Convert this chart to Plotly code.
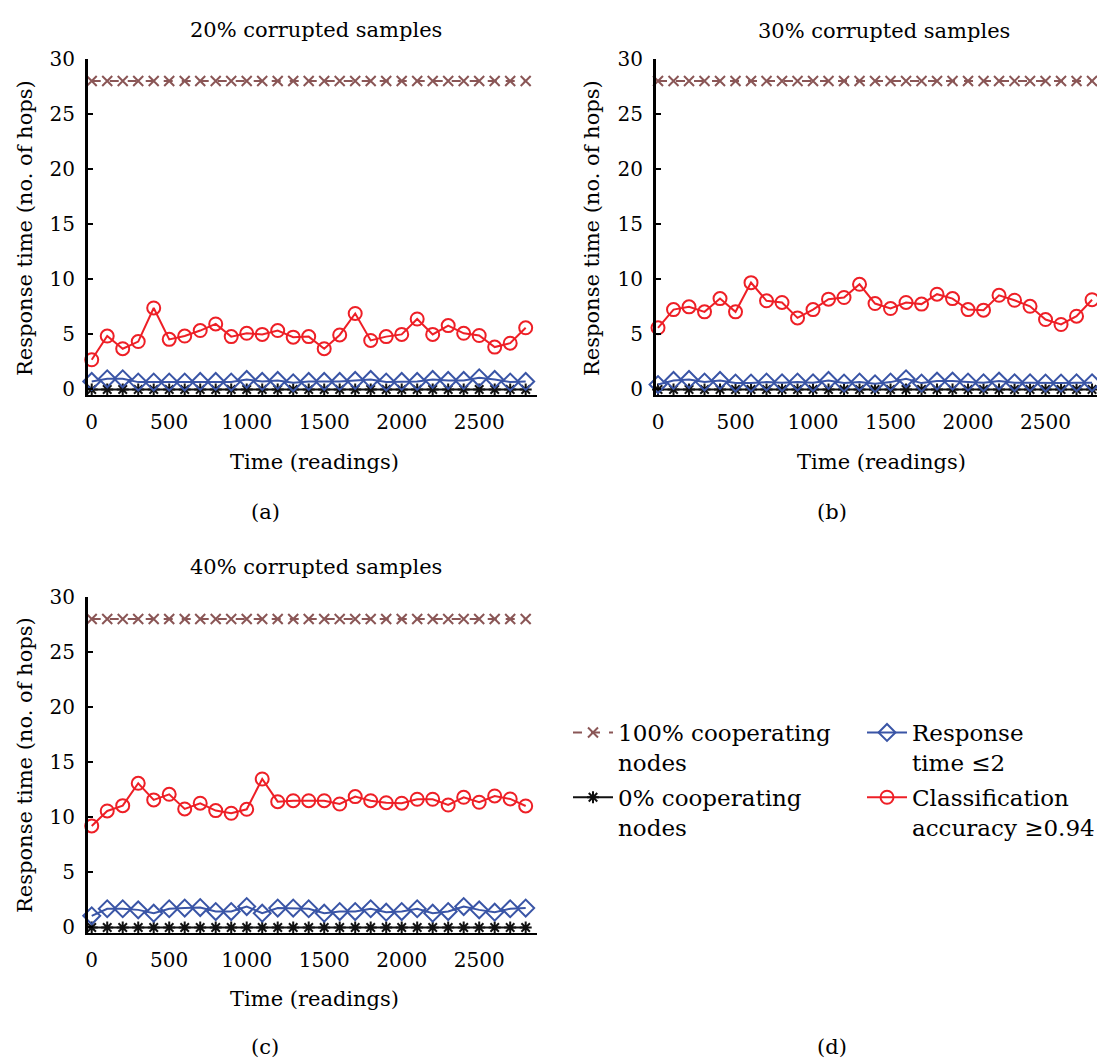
import plotly.graph_objects as go

# ---------------- data ----------------
time_readings = [0, 100, 200, 300, 400, 500, 600, 700, 800, 900, 1000, 1100, 1200, 1300,
                 1400, 1500, 1600, 1700, 1800, 1900, 2000, 2100, 2200, 2300, 2400, 2500,
                 2600, 2700, 2800]

coop100 = [28, 28, 28, 28, 28, 28, 28, 28, 28, 28, 28, 28, 28, 28, 28, 28, 28, 28, 28, 28,
           28, 28, 28, 28, 28, 28, 28, 28, 28]
coop0 = [0, 0, 0, 0, 0, 0, 0, 0, 0, 0, 0, 0, 0, 0, 0, 0, 0, 0, 0, 0,
         0, 0, 0, 0, 0, 0, 0, 0, 0]

# (a) 20% corrupted samples
resp_a = [0.73, 0.97, 0.97, 0.67, 0.67, 0.67, 0.67, 0.73, 0.73, 0.67, 0.91, 0.73, 0.82, 0.61,
          0.73, 0.73, 0.73, 0.82, 0.91, 0.67, 0.73, 0.73, 0.91, 0.82, 0.82, 1.06, 0.91, 0.67, 0.73]
class_a = [2.7, 4.85, 3.7, 4.35, 7.4, 4.55, 4.85, 5.35, 5.95, 4.8, 5.1, 5.0, 5.35, 4.75,
           4.8, 3.7, 4.95, 6.9, 4.45, 4.8, 5.0, 6.4, 5.0, 5.8, 5.1, 4.9, 3.85, 4.2, 5.6]

# (b) 30% corrupted samples
resp_b = [0.45, 0.82, 0.91, 0.67, 0.82, 0.58, 0.58, 0.67, 0.61, 0.67, 0.61, 0.82, 0.58, 0.67,
          0.52, 0.67, 0.97, 0.58, 0.76, 0.76, 0.67, 0.61, 0.76, 0.61, 0.61, 0.58, 0.58, 0.61, 0.61]
class_b = [5.6, 7.25, 7.5, 7.05, 8.25, 7.05, 9.7, 8.05, 7.9, 6.5, 7.25, 8.2, 8.35, 9.55,
           7.8, 7.35, 7.9, 7.75, 8.65, 8.25, 7.25, 7.2, 8.55, 8.1, 7.55, 6.35, 5.9, 6.65, 8.15]

# (c) 40% corrupted samples
resp_c = [1.06, 1.70, 1.70, 1.60, 1.30, 1.70, 1.76, 1.81, 1.45, 1.45, 1.90, 1.30, 1.76, 1.76,
          1.70, 1.30, 1.45, 1.45, 1.70, 1.39, 1.45, 1.70, 1.30, 1.45, 1.90, 1.60, 1.39, 1.70, 1.76]
class_c = [9.22, 10.58, 11.06, 13.09, 11.58, 12.09, 10.76, 11.28, 10.61, 10.37, 10.73, 13.48,
           11.42, 11.51, 11.51, 11.51, 11.21, 11.88, 11.51, 11.33, 11.28, 11.64, 11.64, 11.12,
           11.82, 11.37, 11.94, 11.67, 11.03]

panel_titles = ["20% corrupted samples", "30% corrupted samples", "40% corrupted samples"]
panel_labels = ["(a)", "(b)", "(c)", "(d)"]
x_title = "Time (readings)"
y_title = "Response time (no. of hops)"
x_ticks = [0, 500, 1000, 1500, 2000, 2500]
y_ticks = [0, 5, 10, 15, 20, 25, 30]

series_names = ["100% cooperating<br>nodes", "0% cooperating<br>nodes",
                "Response<br>time \u22642", "Classification<br>accuracy \u22650.94"]

# ---------------- layout helpers ----------------
W, H = 1097, 1062
FONT = "DejaVu Serif"
BROWN = "#8a5656"
BLACK = "#111111"
BLUE = "#3a55a6"
RED = "#ee1f26"


def fx(p):
    return p / W


def fy(p):
    return 1 - p / H


fig = go.Figure()

panels = [
    ("x", "y", resp_a, class_a, False),
    ("x2", "y2", resp_b, class_b, False),
    ("x3", "y3", resp_c, class_c, True),
]

for xa, ya, resp, clas, show in panels:
    fig.add_trace(go.Scatter(
        x=time_readings, y=coop100, xaxis=xa, yaxis=ya, mode="lines+markers",
        name=series_names[0], legendgroup="coop100", showlegend=show, legend="legend",
        line=dict(color=BROWN, width=2, dash="dash"),
        marker=dict(symbol="x-thin-open", size=10, color=BROWN, line=dict(color=BROWN, width=2)),
        cliponaxis=False))
    fig.add_trace(go.Scatter(
        x=time_readings, y=coop0, xaxis=xa, yaxis=ya, mode="lines+markers",
        name=series_names[1], legendgroup="coop0", showlegend=show, legend="legend",
        line=dict(color=BLACK, width=2),
        marker=dict(symbol="asterisk-open", size=10, color=BLACK, line=dict(color=BLACK, width=2)),
        cliponaxis=False))
    fig.add_trace(go.Scatter(
        x=time_readings, y=resp, xaxis=xa, yaxis=ya, mode="lines+markers",
        name=series_names[2], legendgroup="resp", showlegend=show, legend="legend2",
        line=dict(color=BLUE, width=2),
        marker=dict(symbol="diamond-open", size=13, color=BLUE, line=dict(color=BLUE, width=2)),
        cliponaxis=False))
    fig.add_trace(go.Scatter(
        x=time_readings, y=clas, xaxis=xa, yaxis=ya, mode="lines+markers",
        name=series_names[3], legendgroup="class", showlegend=show, legend="legend2",
        line=dict(color=RED, width=2),
        marker=dict(symbol="circle-open", size=13, color=RED, line=dict(color=RED, width=2)),
        cliponaxis=False))


def xaxis_style(domain, rng, anchor):
    return dict(domain=domain, range=rng, anchor=anchor, showline=True, linewidth=2,
                linecolor="black", ticks="", tickvals=x_ticks, showgrid=False,
                zeroline=False, tickfont=dict(family=FONT, size=20, color="black"),
                ticklabelstandoff=8, automargin=False)


def yaxis_style(domain, anchor):
    return dict(domain=domain, range=[-0.5, 30], anchor=anchor, showline=True, linewidth=3,
                linecolor="black", ticks="inside", ticklen=5, tickwidth=2, tickcolor="black",
                tickvals=y_ticks, showgrid=False, zeroline=False,
                tickfont=dict(family=FONT, size=20, color="black"), ticklabelstandoff=6,
                automargin=False)


top_row = [fy(395), fy(59)]
bot_row = [fy(933), fy(597)]
left_col = [fx(88), fx(537)]
right_col = [fx(656), 1.0]

annotations = []


def ann(text, x, y, size=21, angle=0):
    annotations.append(dict(text=text, x=fx(x), y=fy(y), xref="paper", yref="paper",
                            showarrow=False, xanchor="center", yanchor="middle",
                            textangle=angle, font=dict(family=FONT, size=size, color="black")))


ann(panel_titles[0], 316, 30)
ann(panel_titles[1], 884, 31)
ann(panel_titles[2], 316, 567)
ann(x_title, 314, 462)
ann(x_title, 881, 462)
ann(x_title, 314, 999)
ann(y_title, 25, 228, angle=-90)
ann(y_title, 592, 228, angle=-90)
ann(y_title, 25, 765, angle=-90)
ann(panel_labels[0], 265, 512)
ann(panel_labels[1], 832, 512)
ann(panel_labels[2], 265, 1047)
ann(panel_labels[3], 832, 1047)

legend_common = dict(font=dict(family=FONT, size=23, color="black"), bgcolor="rgba(0,0,0,0)",
                     borderwidth=0, valign="top", tracegroupgap=2, xanchor="left",
                     yanchor="top", itemwidth=40)

fig.update_layout(
    width=W, height=H,
    margin=dict(l=0, r=0, t=0, b=0, autoexpand=False),
    paper_bgcolor="white", plot_bgcolor="white",
    xaxis=xaxis_style(left_col, [-24, 2873], "y"),
    yaxis=yaxis_style(top_row, "x"),
    xaxis2=xaxis_style(right_col, [-13, 2832], "y2"),
    yaxis2=yaxis_style(top_row, "x2"),
    xaxis3=xaxis_style(left_col, [-24, 2873], "y3"),
    yaxis3=yaxis_style(bot_row, "x3"),
    legend=dict(x=fx(568), y=fy(711), **legend_common),
    legend2=dict(x=fx(862), y=fy(711), **legend_common),
    annotations=annotations,
    font=dict(family=FONT, color="black"),
)

fig.write_html("out.html")
